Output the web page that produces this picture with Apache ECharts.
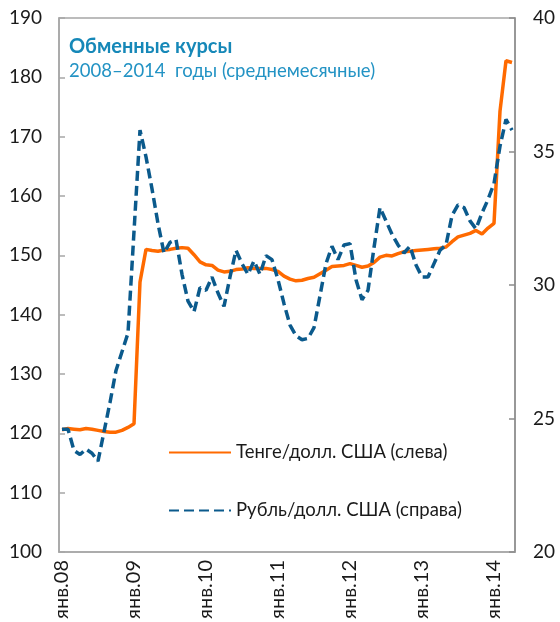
<!DOCTYPE html>
<html>
<head>
<meta charset="utf-8">
<script src="https://cdn.jsdelivr.net/npm/echarts@6/dist/echarts.min.js"></script>
<style>
  html, body { margin: 0; padding: 0; background: #fff; }
  #chart { width: 560px; height: 622px; }
</style>
</head>
<body>
<div id="chart"></div>
<script>
// months Jan 2008 .. Apr 2014
const months = [];
for (let y = 8; y <= 14; y++) {
  for (let m = 1; m <= 12; m++) {
    if (y === 14 && m > 4) break;
    months.push('янв.' + String(y).padStart(2, '0') + (m === 1 ? '' : '/' + m));
  }
}

// тенге за доллар (левая шкала)
const tenge = [
  120.6, 120.8, 120.7, 120.6, 120.8, 120.7, 120.5, 120.3, 120.2, 120.2, 120.5, 121.0,
  121.6, 145.5, 151.0, 150.8, 150.7, 150.9, 151.0, 151.2, 151.3, 151.2, 150.1, 148.9,
  148.4, 148.3, 147.5, 147.2, 147.3, 147.6, 147.7, 147.9, 147.8, 147.8, 147.8, 147.6,
  147.3, 146.5, 146.0, 145.7, 145.8, 146.1, 146.3, 146.9, 147.5, 148.1, 148.2, 148.3,
  148.6, 148.3, 148.0, 148.2, 148.8, 149.7, 150.0, 149.9, 150.3, 150.6, 150.7, 150.8,
  150.9, 151.0, 151.1, 151.2, 151.4, 152.3, 153.1, 153.4, 153.7, 154.2, 153.6, 154.6,
  155.4, 174.3, 182.8, 182.5
];

// рубль за доллар (правая шкала)
const rouble = [
  24.6, 24.6, 23.8, 23.65, 23.85, 23.7, 23.4, 24.5, 25.6, 26.8, 27.5, 28.2,
  32.0, 35.8, 34.8, 33.6, 32.3, 31.2, 31.6, 31.7, 30.4, 29.4, 29.0, 29.9,
  29.8, 30.3, 29.7, 29.2, 30.3, 31.3, 30.8, 30.4, 30.9, 30.4, 31.1, 30.95,
  30.2, 29.3, 28.5, 28.1, 27.95, 28.0, 28.4, 29.6, 30.8, 31.45, 30.95, 31.5,
  31.55, 30.2, 29.45, 29.8, 31.4, 32.9, 32.4, 31.9, 31.5, 31.2, 31.45, 30.75,
  30.3, 30.3, 30.8, 31.3, 31.5, 32.6, 33.0, 32.9, 32.4, 32.1, 32.7, 33.2,
  33.8, 35.2, 36.2, 35.8
];

const leftTicks = [100, 190, 10];
const rightTicks = [20, 40, 5];

const font = 'Lato, "Noto Sans", sans-serif';
const chart = echarts.init(document.getElementById('chart'), null, { renderer: 'canvas' });

var option = {
  animation: false,
  backgroundColor: '#fff',
  title: {
    text: 'Обменные курсы',
    subtext: '2008–2014  годы (среднемесячные)',
    left: 64,
    top: 32,
    itemGap: 5,
    textStyle: { fontFamily: font, fontSize: 20, fontWeight: 'bold', color: '#1688b8' },
    subtextStyle: { fontFamily: font, fontSize: 18.5, color: '#2393c4' }
  },
  legend: {
    orient: 'vertical',
    left: 163,
    top: 438,
    itemWidth: 62,
    itemHeight: 14,
    itemGap: 39,
    itemStyle: { opacity: 0 },
    textStyle: { fontFamily: font, fontSize: 18.5, color: '#1a1a1a' },
    data: ['Тенге/долл. США (слева)', 'Рубль/долл. США (справа)']
  },
  grid: {
    left: 59,
    right: 45,
    top: 18,
    bottom: 70,
    show: true,
    borderColor: '#a6a6a6',
    borderWidth: 1.5
  },
  xAxis: {
    type: 'category',
    boundaryGap: true,
    data: months,
    axisLine: { lineStyle: { color: '#a6a6a6', width: 1.5 } },
    axisTick: { interval: 11, length: 5, lineStyle: { color: '#a6a6a6', width: 1.5 } },
    axisLabel: {
      interval: 11,
      rotate: 90,
      margin: 8,
      fontFamily: font,
      fontSize: 20,
      color: '#1a1a1a',
      formatter: function (v) { return v.split('/')[0]; }
    }
  },
  yAxis: [{
    type: 'value',
    min: leftTicks[0],
    max: leftTicks[1],
    interval: leftTicks[2],
    axisLine: { show: true, lineStyle: { color: '#a6a6a6', width: 1.5 } },
    axisTick: { show: true, inside: true, length: 6, lineStyle: { color: '#a6a6a6', width: 1.5 } },
    splitLine: { show: false },
    axisLabel: { margin: 17, fontFamily: font, fontSize: 19, color: '#1a1a1a' }
  }, {
    type: 'value',
    min: rightTicks[0],
    max: rightTicks[1],
    interval: rightTicks[2],
    position: 'right',
    axisLine: { show: true, lineStyle: { color: '#8c8c8c', width: 1.5 } },
    axisTick: { show: true, inside: true, length: 6, lineStyle: { color: '#8c8c8c', width: 1.5 } },
    splitLine: { show: false },
    axisLabel: { margin: 18, fontFamily: font, fontSize: 19, color: '#1a1a1a' }
  }],
  series: [{
    name: 'Тенге/долл. США (слева)',
    type: 'line',
    yAxisIndex: 0,
    symbol: 'none',
    data: tenge,
    lineStyle: { color: '#ff6a00', width: 3.5 },
    itemStyle: { color: '#ff6a00' },
    z: 2
  }, {
    name: 'Рубль/долл. США (справа)',
    type: 'line',
    yAxisIndex: 1,
    symbol: 'none',
    data: rouble,
    lineStyle: { color: '#0b5a8c', width: 3.5, type: [10, 5] },
    itemStyle: { color: '#0b5a8c' },
    z: 3
  }]
};

chart.setOption(option);
</script>
</body>
</html>
